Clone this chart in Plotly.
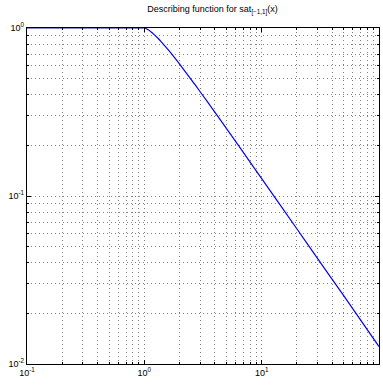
import plotly.graph_objects as go

# amplitude values (x) and describing function gain (y)
amplitude = [0.1, 0.2, 0.5, 1.0, 1.01, 1.02, 1.05, 1.1, 1.15, 1.2, 1.3, 1.4, 1.5, 1.7,
             2.0, 2.5, 3.0, 4.0, 5.0, 7.0, 10.0, 20.0, 30.0, 50.0, 100.0]
gain = [1.0, 1.0, 1.0, 1.0, 0.999, 0.9966, 0.987, 0.968, 0.944, 0.920, 0.872, 0.825, 0.781, 0.703,
        0.609, 0.495, 0.416, 0.315, 0.253, 0.181, 0.127, 0.0636, 0.0424, 0.0255, 0.0127]

x_tickvals = [0.1, 1, 10, 100]
x_ticktext = ["10<sup>-1</sup>", "10<sup>0</sup>", "10<sup>1</sup>", "10<sup>2</sup>"]
y_tickvals = [0.01, 0.1, 1]
y_ticktext = ["10<sup>-2</sup>", "10<sup>-1</sup>", "10<sup>0</sup>"]
x_minor = [m * d for d in (0.1, 1, 10) for m in range(2, 10)]
y_minor = [m * d for d in (0.01, 0.1) for m in range(2, 10)]

fig = go.Figure()
fig.add_trace(go.Scatter(x=amplitude, y=gain, mode="lines",
                         line=dict(color="#0000ff", width=1.2, shape="spline", smoothing=0.6),
                         showlegend=False))

font = dict(family="Liberation Sans, Arial, sans-serif", size=9, color="black")
GRID_DASH = "1px,3px"


def axis_style(minor_vals):
    return dict(
        type="log", showline=True, linecolor="black", linewidth=1.3, mirror="ticks",
        ticks="inside", ticklen=4, tickcolor="black", automargin=False,
        showgrid=True, gridcolor="#808080", griddash=GRID_DASH, gridwidth=1,
        zeroline=False, tickfont=font,
        minor=dict(tickmode="array", tickvals=minor_vals, showgrid=True,
                   gridcolor="#808080", griddash=GRID_DASH, gridwidth=1,
                   ticks="inside", ticklen=2, tickcolor="black"),
    )


fig.update_xaxes(range=[-1, 2], tickvals=x_tickvals, ticktext=x_ticktext, **axis_style(x_minor))
fig.update_yaxes(range=[-2, 0], tickvals=y_tickvals, ticktext=y_ticktext, **axis_style(y_minor))

fig.update_layout(
    width=383, height=386,
    margin=dict(l=27, r=4, t=28, b=22),
    paper_bgcolor="white", plot_bgcolor="white",
    font=font,
    title=dict(text="Describing function for sat<sub>[\u22121,1]</sub>(x)",
               x=0.555, xanchor="center", y=0.985, yanchor="top",
               font=dict(family="Liberation Sans, Arial, sans-serif", size=9, color="black")),
)
fig.write_html("out.html", config={"displayModeBar": False},
               post_script="document.body.style.margin='0px';document.body.style.overflow='hidden';")
